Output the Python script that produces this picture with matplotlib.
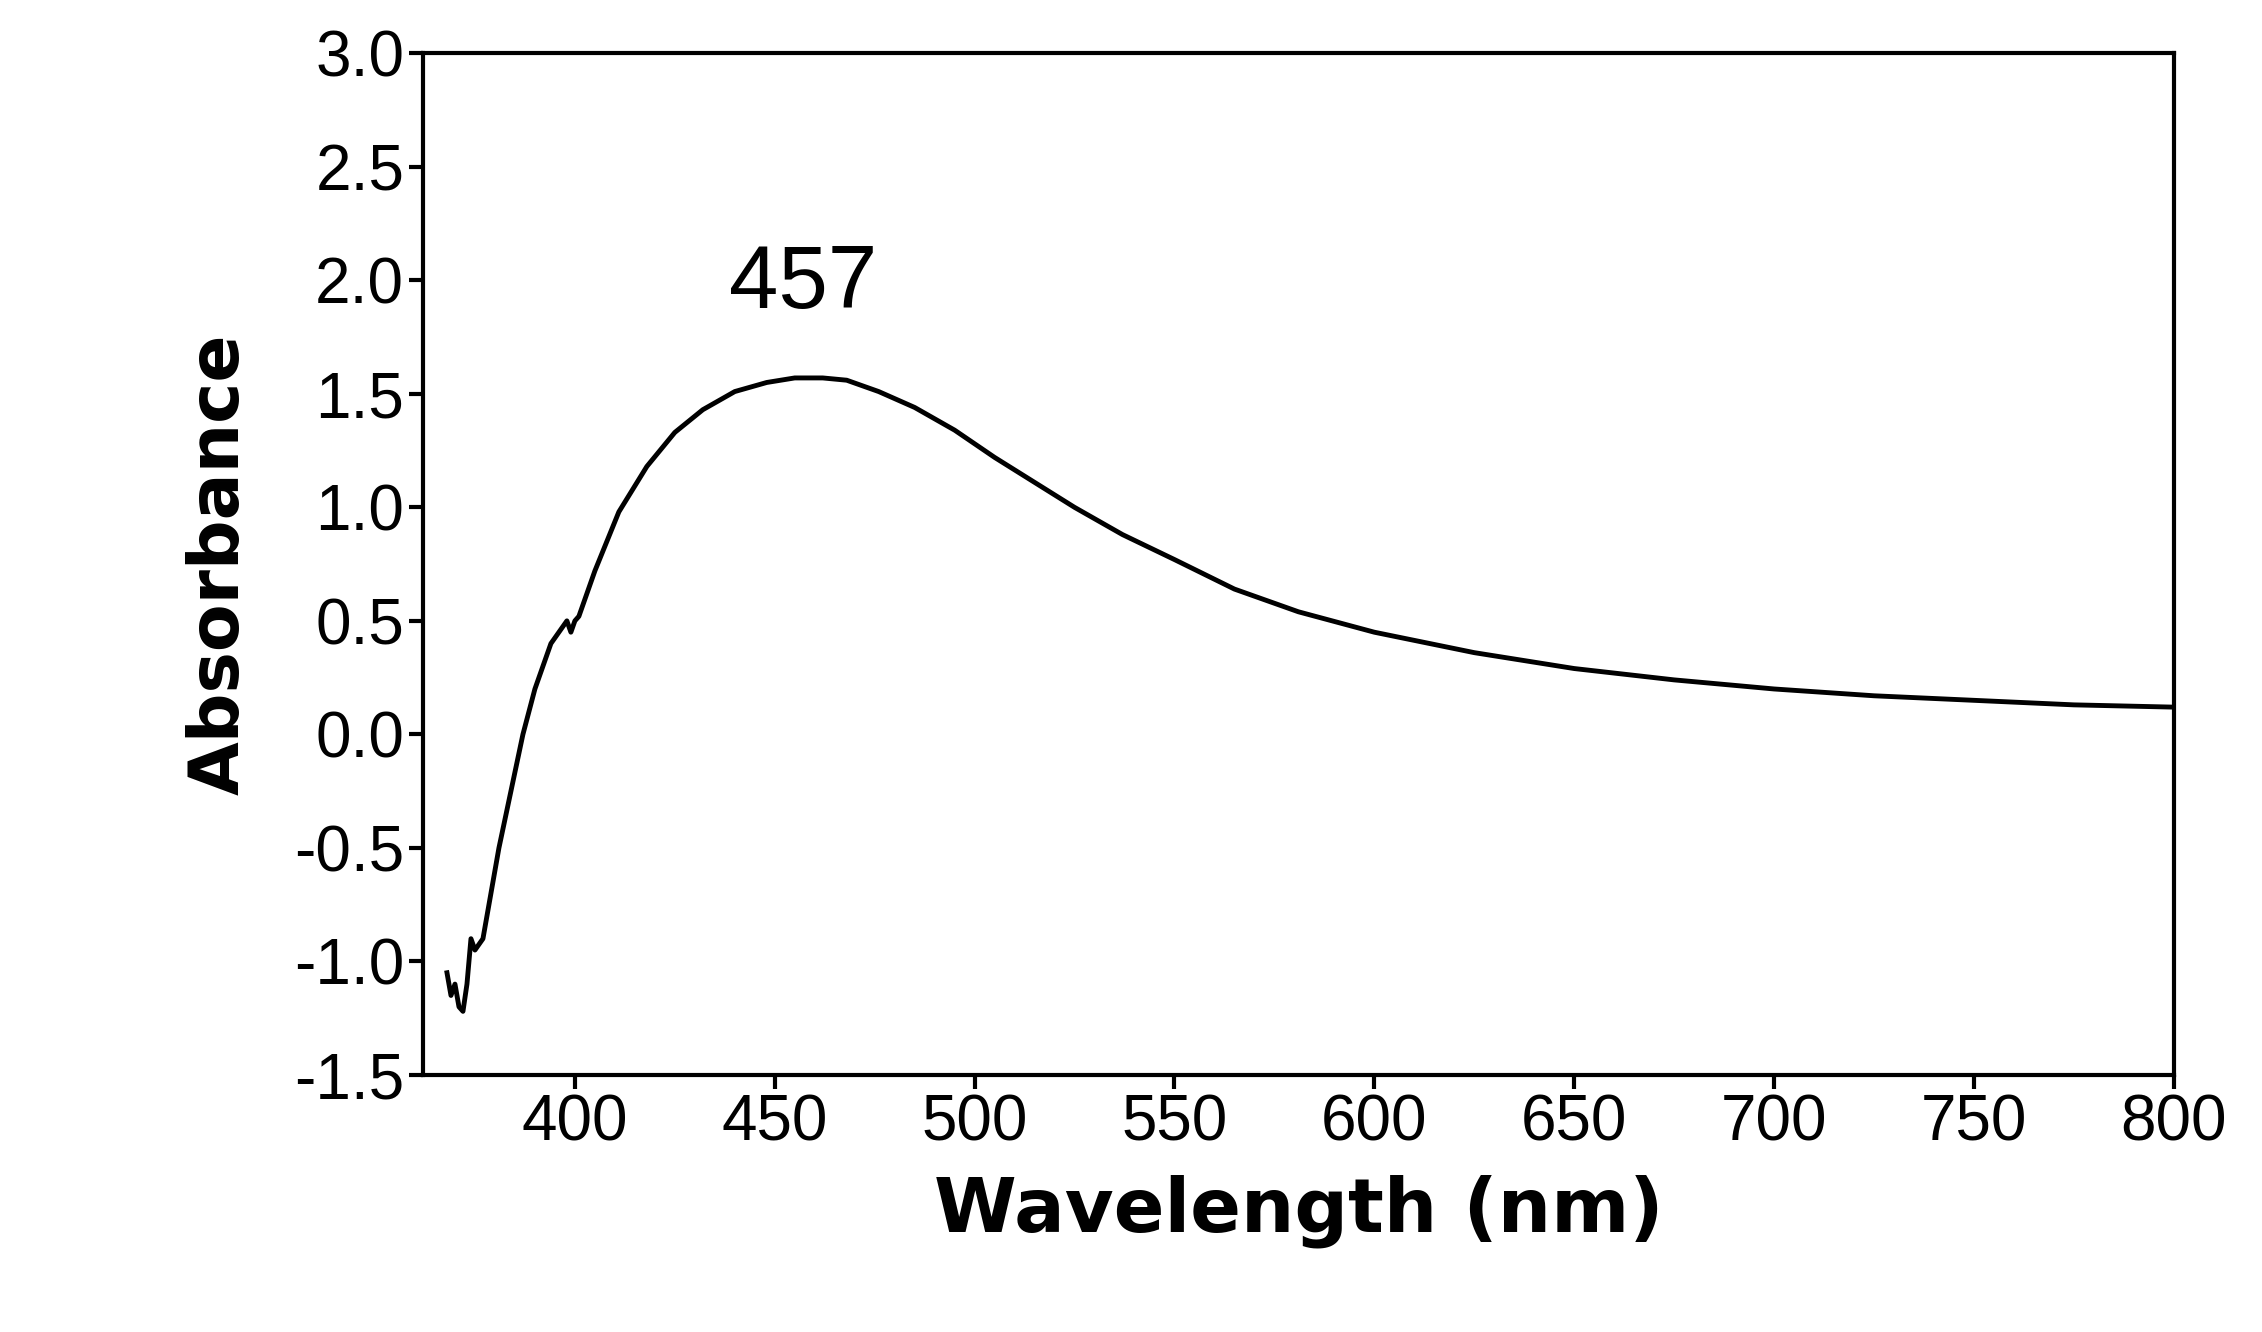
import matplotlib
matplotlib.use("Agg")
import matplotlib.pyplot as plt

plt.rcParams['font.family'] = ['Liberation Sans', 'DejaVu Sans']

# spectrum
wavelength = [368, 369, 370, 371, 372, 373, 374, 375, 377, 379, 381, 384, 387, 390, 394, 398, 399, 400, 401,
              405, 411, 418, 425, 432, 440, 448, 455, 462, 468, 476, 485, 495, 505, 515, 525, 537,
              550, 565, 581, 600, 625, 650, 675, 700, 725, 750, 775, 800]
absorbance = [-1.05, -1.15, -1.1, -1.2, -1.22, -1.1, -0.9, -0.95, -0.9, -0.7, -0.5, -0.25, 0.0, 0.2, 0.4, 0.5, 0.45, 0.5, 0.52,
              0.72, 0.98, 1.18, 1.33, 1.43, 1.51, 1.55, 1.57, 1.57, 1.56, 1.51, 1.44, 1.34, 1.22, 1.11, 1.0, 0.88,
              0.77, 0.64, 0.54, 0.45, 0.36, 0.29, 0.24, 0.2, 0.17, 0.15, 0.13, 0.12]

fig = plt.figure(figsize=(22.62, 13.32), dpi=100)
ax = fig.add_axes([0.187, 0.193, 0.774, 0.767])
ax.plot(wavelength, absorbance, color='black', linewidth=3.5)

ax.set_xlim(362, 800)
ax.set_ylim(-1.5, 3.0)
ax.set_xticks(range(400, 801, 50))
ax.set_yticks([-1.5 + 0.5 * i for i in range(10)])
ax.set_yticklabels([f"{-1.5 + 0.5 * i:.1f}" for i in range(10)])
ax.tick_params(labelsize=46, width=3, length=10, direction='out')
for s in ax.spines.values():
    s.set_linewidth(3)

ax.set_xlabel("Wavelength (nm)", fontsize=54, fontweight='bold', family='DejaVu Sans', labelpad=15)
ax.set_ylabel("Absorbance", fontsize=50, fontweight='bold', family='DejaVu Sans', labelpad=30)
ax.text(457, 1.98, "457", fontsize=64, ha='center', va='center')

fig.savefig("out.png", dpi=100)
